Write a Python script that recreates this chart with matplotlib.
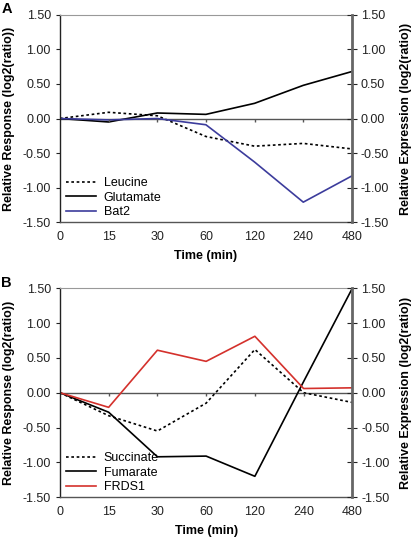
import numpy as np
import matplotlib
matplotlib.use("Agg")
import matplotlib.pyplot as plt

plt.rcParams["font.family"] = ["Liberation Sans", "DejaVu Sans"]
plt.rcParams["font.size"] = 9

# --- data ---
times = ["0", "15", "30", "60", "120", "240", "480"]

leucine = [0.00, 0.09, 0.04, -0.26, -0.40, -0.36, -0.44]
glutamate = [0.00, -0.05, 0.08, 0.06, 0.22, 0.48, 0.68]
bat2 = [0.00, -0.02, 0.00, -0.09, -0.63, -1.21, -0.83]

succinate = [0.00, -0.33, -0.55, -0.15, 0.62, 0.00, -0.14]
fumarate = [0.00, -0.28, -0.92, -0.91, -1.20, 0.16, 1.50]
frds1 = [0.00, -0.21, 0.61, 0.45, 0.81, 0.06, 0.07]

yticks = [-1.5, -1.0, -0.5, 0.0, 0.5, 1.0, 1.5]

BLUE = "#3C3C9C"
RED = "#D4312C"
DOT = (0, (1.6, 1.6))


def panel(ax, series, letter):
    x = np.arange(len(times))
    for vals, label, color, ls in series:
        ax.plot(x, vals, color=color, lw=1.2, ls=ls, label=label)

    # zero line with category ticks (excel style)
    ax.axhline(0, color="#555555", lw=1.0, zorder=1)
    ax.vlines(x[1:], -0.05, 0, color="#555555", lw=1.0)

    ax.set_xlim(x[0], x[-1])
    ax.set_ylim(-1.5, 1.5)
    ax.set_xticks(x)
    ax.set_xticklabels(times)
    ax.set_yticks(yticks)
    ax.set_yticklabels([f"{v:.2f}" for v in yticks])
    ax.tick_params(axis="x", length=0, pad=6, colors="#222222")
    ax.tick_params(axis="y", length=3, width=0.8, colors="#222222")

    ax.spines["top"].set_color("#999999")
    ax.spines["top"].set_linewidth(0.8)
    ax.spines["left"].set_color("#222222")
    ax.spines["left"].set_linewidth(1.0)
    ax.spines["bottom"].set_color("#555555")
    ax.spines["bottom"].set_linewidth(1.0)
    ax.spines["right"].set_visible(False)

    ax.set_xlabel("Time (min)", fontweight="bold")
    ax.xaxis.set_label_coords(0.5, -0.135)
    ax.set_ylabel("Relative Response (log2(ratio))", fontweight="bold")
    ax.yaxis.set_label_coords(-0.153, 0.5)

    ax.legend(loc="lower left", frameon=False, handlelength=2.4,
              handletextpad=0.6, labelspacing=0.2, borderaxespad=0.1,
              bbox_to_anchor=(0.0, -0.01))

    # right axis
    ax2 = ax.twinx()
    ax2.set_ylim(-1.5, 1.5)
    ax2.set_yticks(yticks)
    ax2.set_yticklabels([f"{v:.2f}" for v in yticks])
    ax2.tick_params(axis="y", direction="inout", length=7, width=0.8,
                    colors="#222222", pad=3)
    for s in ["top", "left", "bottom"]:
        ax2.spines[s].set_visible(False)
    ax2.spines["right"].set_color("#666666")
    ax2.spines["right"].set_linewidth(2.0)
    ax2.set_ylabel("Relative Expression (log2(ratio))", fontweight="bold")
    ax2.yaxis.set_label_coords(1.163, 0.5)

    ax.text(-0.2, 1.06, letter, transform=ax.transAxes, fontsize=10.5,
            fontweight="bold", va="top", ha="left")


fig = plt.figure(figsize=(4.16, 5.5), dpi=100)
axA = fig.add_axes([0.144, 0.596, 0.702, 0.377])
axB = fig.add_axes([0.144, 0.096, 0.703, 0.380])

panel(axA, [(leucine, "Leucine", "black", DOT),
            (glutamate, "Glutamate", "black", "-"),
            (bat2, "Bat2", BLUE, "-")], "A")
panel(axB, [(succinate, "Succinate", "black", DOT),
            (fumarate, "Fumarate", "black", "-"),
            (frds1, "FRDS1", RED, "-")], "B")

fig.savefig("out.png", dpi=100)
